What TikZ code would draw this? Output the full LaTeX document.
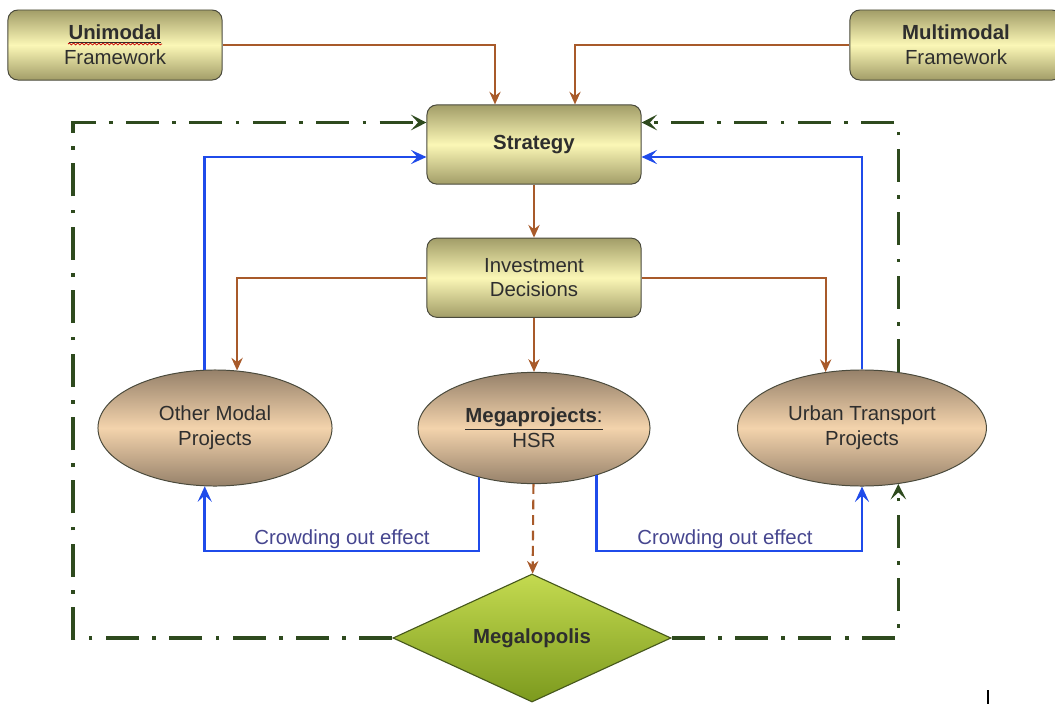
\documentclass[tikz,border=0pt]{standalone}
\usepackage{fontspec}
\setmainfont{Liberation Sans}
\usepackage{xcolor}
\usepackage{tikz}
\usetikzlibrary{positioning,arrows.meta,shapes.geometric,calc,decorations.pathmorphing}
\tikzset{
  block/.style={rectangle, draw=edge, line width=0.7pt, rounded corners=7pt,
                top color=boxdark, bottom color=boxdark, middle color=boxlight,
                minimum height=1.98cm, minimum width=5.35cm, text=ink,
                font=\fontsize{14.5}{17.5}\selectfont, inner sep=2pt, align=center},
  proj/.style={ellipse, draw=edge, line width=0.7pt,
               top color=projdark, bottom color=projdark, middle color=projlight,
               minimum height=2.9cm, minimum width=5.85cm, text=ink,
               font=\fontsize{14.5}{17.5}\selectfont, inner sep=0pt, align=center},
  hub/.style={diamond, draw=hubedge, line width=0.8pt, top color=hubtop, bottom color=hubbot,
              minimum width=6.95cm, minimum height=3.2cm, shape aspect=2.2, inner sep=0pt,
              text=ink, font=\fontsize{14.5}{17.5}\selectfont\bfseries},
  note/.style={font=\fontsize{14.5}{17.5}\selectfont, text=notecol},
  arr/.style={-{Stealth[length=9pt, width=8pt, inset=3pt]}, line width=1.5pt, draw=rust},
  bluearr/.style={-{Stealth[length=11pt, width=10pt, inset=4.5pt]}, line width=1.8pt, draw=flow},
  grline/.style={line width=2.2pt, draw=pine,
                 dash pattern=on 23.5pt off 9.5pt on 2.6pt off 9.5pt},
  grarr/.style={grline, -{Stealth[length=11pt, width=11pt, inset=5pt]}},
  spell/.style={draw=red!80!black, line width=0.5pt, decorate,
                decoration={snake, amplitude=0.7pt, segment length=3pt}},
}
\definecolor{edge}{HTML}{4A4A3C}
\definecolor{ink}{HTML}{2E2E2E}
\definecolor{boxdark}{HTML}{A29D68}
\definecolor{boxlight}{HTML}{FBF7B6}
\definecolor{projdark}{HTML}{96816A}
\definecolor{projlight}{HTML}{F3D3AC}
\definecolor{hubedge}{HTML}{46581C}
\definecolor{hubtop}{HTML}{C4DA50}
\definecolor{hubbot}{HTML}{7C9A1E}
\definecolor{notecol}{HTML}{46468F}
\definecolor{rust}{HTML}{A85A2A}
\definecolor{flow}{HTML}{1F4BEA}
\definecolor{pine}{HTML}{2E4A1E}

\begin{document}
\begin{tikzpicture}[x=0.025cm, y=-0.025cm, node distance=2mm]
    \useasboundingbox (0,0) rectangle (1055,704);
    \clip (0,0) rectangle (1055,704);
    \node[block, minimum height=1.75cm] (uni) at (115,45) {\underline{\textbf{Unimodal}}\\Framework};
    \node[block, minimum height=1.75cm, minimum width=5.3cm] (multi) at (956,45) {\textbf{Multimodal}\\Framework};
    \node[block] (strat) at (534,144.5) {\textbf{Strategy}};
    \node[block, below=1.325cm of strat] (inv) {Investment\\Decisions};
    \node[proj] (other) at (215,428) {Other Modal\\Projects};
    \node[proj, minimum width=5.8cm, minimum height=2.78cm] (mega) at (534,428) {\underline{\textbf{Megaprojects}:}\\HSR};
    \node[proj, minimum width=6.22cm] (urban) at (862,428) {Urban Transport\\Projects};
    \node[hub] (mgl) at (532,638) {Megalopolis};
    \coordinate (crowdL) at (342,551);
    \coordinate (crowdR) at (725,551);
    \coordinate (gl) at (73,122.5);
    \node[note, above=-0.6mm of crowdL] (crowdtxtL) {Crowding out effect};
    \node[note, above=-0.6mm of crowdR] (crowdtxtR) {Crowding out effect};
    \draw[spell] ($(uni.center)+(-47,-1)$) -- ($(uni.center)+(47,-1)$);
    \draw[arr] (uni.east) -| ($(strat.north)+(-39,0)$);
    \draw[arr] (multi.west) -| ($(strat.north)+(41,0)$);
    \draw[arr] (strat) -- (inv);
    \draw[arr] (inv.west) -| (other.69);
    \draw[arr] (inv.east) -| (urban.123);
    \draw[arr] (inv) -- (mega);
    \draw[arr, dash pattern=on 7pt off 4pt] (mega) -- (mgl);
    \draw[bluearr] (other.100) |- ($(strat.west)+(0,12.5)$);
    \draw[bluearr] (urban.north) |- ($(strat.east)+(0,12.5)$);
    \draw[bluearr] (mega.222) |- (crowdL) -| (other.260);
    \draw[bluearr] (mega.323) |- (crowdR) -| (urban.south);
    \draw[grarr] (mgl.west) -| (gl) -- ($(strat.west)+(0,-22)$);
    \draw[grarr] (urban.57) |- ($(strat.east)+(0,-22)$);
    \draw[grarr] (mgl.east) -| (urban.303);
    \draw[line width=1.5pt] (988,690) -- (988,704);
  \end{tikzpicture}
\end{document}
